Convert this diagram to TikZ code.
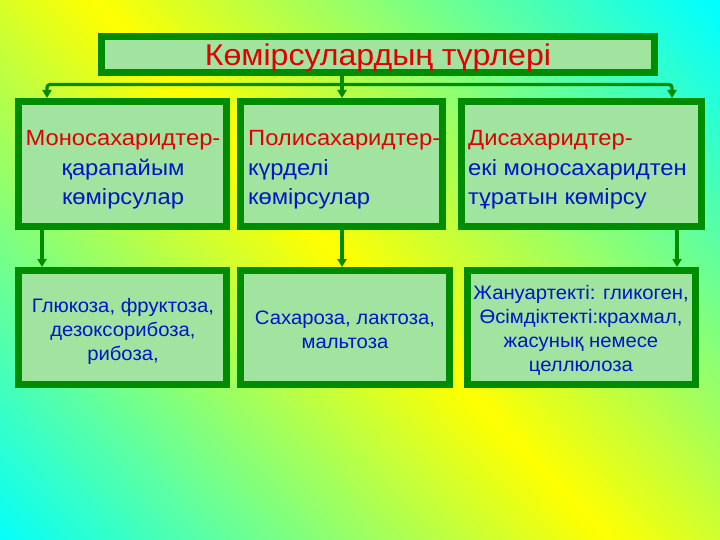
\documentclass[tikz,border=0pt]{standalone}
\usepackage{fontspec}
\setmainfont{Liberation Sans}
\newfontfamily\ttlfont[FakeStretch=1.07]{Liberation Sans}
\newfontfamily\bigfont[FakeStretch=1.08]{Liberation Sans}
\newfontfamily\smallfont[FakeStretch=1.04]{Liberation Sans}
\usetikzlibrary{arrows.meta,calc}
\definecolor{bgc}{RGB}{0,255,255}
\definecolor{bgy}{RGB}{255,255,0}
\definecolor{bdgreen}{RGB}{0,140,0}
\definecolor{boxfill}{RGB}{160,228,160}
\definecolor{txtred}{RGB}{225,0,0}
\definecolor{txtblue}{RGB}{0,20,200}
\tikzset{
  box/.style={draw=bdgreen, fill=boxfill, line width=7pt, inner sep=0pt, outer sep=3.5pt},
  conn/.style={draw=bdgreen, line width=3.2pt},
  arr/.style={conn, -{Triangle[width=9pt,length=8pt]}},
  ttl/.style={font=\ttlfont\fontsize{30}{36}\selectfont, text=txtred},
  big/.style={font=\bigfont\fontsize{22}{29.5}\selectfont, text=txtblue, inner sep=0pt},
  small/.style={font=\smallfont\fontsize{19.5}{24}\selectfont, text=txtblue, inner sep=0pt, align=center},
}
\begin{document}
\begin{tikzpicture}[x=1pt,y=-1pt]
\useasboundingbox (0,0) rectangle (720,540);
% background gradient
\begin{scope}
\clip (0,0) rectangle (720,540);
\foreach \i in {0,...,99}{
  \pgfmathsetmacro{\ca}{-520+\i*12.45}
  \pgfmathsetmacro{\cb}{\ca+13.5}
  \pgfmathsetmacro{\p}{min(100,abs(\ca+6.2-92)/618*100)}
  \fill[bgc!\p!bgy] (\ca,0) -- (\cb,0) -- (\cb+515.7,540) -- (\ca+515.7,540) -- cycle;
}
\end{scope}
% boxes
\node[box, minimum width=553pt, minimum height=36pt] (title) at (378,54.5) {};
\node[box, minimum width=208pt, minimum height=125pt] (b1) at (122.5,164) {};
\node[box, minimum width=202pt, minimum height=125pt] (b2) at (341.5,164) {};
\node[box, minimum width=240pt, minimum height=125pt] (b3) at (581.5,164) {};
\node[box, minimum width=208pt, minimum height=114pt] (b4) at (122.5,327.5) {};
\node[box, minimum width=209pt, minimum height=114pt] (b5) at (345,327.5) {};
\node[box, minimum width=228pt, minimum height=114pt] (b6) at (581.5,327.5) {};
% texts
\node[ttl] (tt) at (378,57.5) {Көмірсулардың түрлері};
\node[big, align=center] (t1) at (123,170) {\textcolor{txtred}{Моносахаридтер-}\\қарапайым\\көмірсулар};
\node[big, align=left, anchor=west] (t2) at (248,170) {\textcolor{txtred}{Полисахаридтер-}\\күрделі\\көмірсулар};
\node[big, align=left, anchor=west] (t3) at (468,170) {\textcolor{txtred}{Дисахаридтер-}\\екі моносахаридтен\\тұратын көмірсу};
\node[small] (t4) at (123,331.5) {Глюкоза, фруктоза,\\дезоксорибоза,\\рибоза,};
\node[small] (t5) at (345,330) {Сахароза, лактоза,\\мальтоза};
\node[small] (t6) at (581,330.5) {Жануартекті: гликоген,\\Өсімдіктекті:крахмал,\\жасунық немесе\\целлюлоза};
% connectors
\coordinate (jl) at (47,84.5);
\coordinate (jc) at (342,84.5);
\coordinate (jr) at (672,84.5);
\coordinate (a1) at (42,250);
\coordinate (a2) at (342,250);
\coordinate (a3) at (677,250);
\draw[arr] (title.south -| jc) -- (b2.north -| jc);
\draw[arr, rounded corners=3pt] (jc) -| (b1.north -| jl);
\draw[arr, rounded corners=3pt] (jc) -| (b3.north -| jr);
\draw[arr] (b1.south -| a1) -- (b4.north -| a1);
\draw[arr] (b2.south -| a2) -- (b5.north -| a2);
\draw[arr] (b3.south -| a3) -- (b6.north -| a3);
\end{tikzpicture}
\end{document}
